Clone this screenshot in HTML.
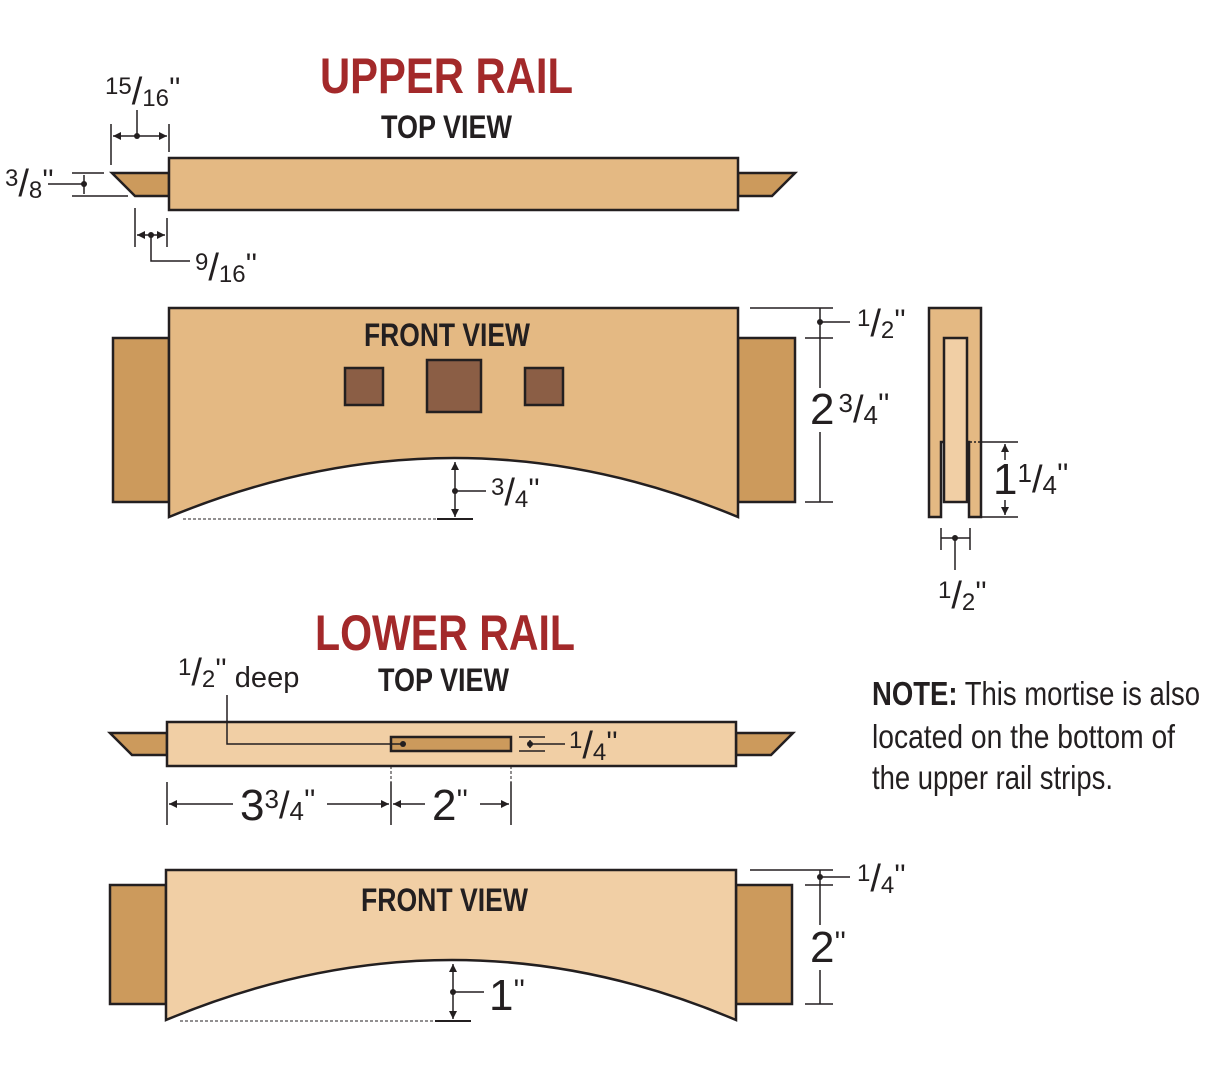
<!DOCTYPE html>
<html><head><meta charset="utf-8"><style>
html,body{margin:0;padding:0;background:#fff;}
svg{display:block;}
text{font-family:"Liberation Sans Narrow","Liberation Sans",sans-serif;fill:#231f20;}
.t{font-weight:bold;}
</style></head><body>
<svg width="1205" height="1090" viewBox="0 0 1205 1090" xmlns="http://www.w3.org/2000/svg">
<defs>
<marker id="a" viewBox="0 0 10 10" refX="10" refY="5" markerWidth="8" markerHeight="8" orient="auto-start-reverse" markerUnits="userSpaceOnUse"><path d="M0,0 L10,5 L0,10 z" fill="#231f20"/></marker>
</defs>
<g stroke="#231f20" stroke-width="2.5" stroke-linejoin="miter">
<polygon points="169,173 112,173 135,196 169,196" fill="#cc9a5c"/>
<polygon points="738,173 795,173 772,196 738,196" fill="#cc9a5c"/>
<rect x="169" y="158" width="569" height="52" fill="#e4b983"/>
<rect x="113" y="338" width="56" height="164" fill="#cc9a5c"/>
<rect x="738" y="338" width="57" height="164" fill="#cc9a5c"/>
<path d="M169,308 L738,308 L738,517 Q455,399 169,517 Z" fill="#e4b983"/>
<rect x="345" y="368" width="38" height="37" fill="#8b5e45"/>
<rect x="427" y="360" width="54" height="52" fill="#8b5e45"/>
<rect x="525" y="368" width="38" height="37" fill="#8b5e45"/>
<path d="M929,308 L981,308 L981,517 L969,517 L969,442 L941,442 L941,517 L929,517 Z" fill="#e4b983"/>
<rect x="944" y="338" width="23" height="164" fill="#f1cfa5"/>
<polygon points="167,733 110,733 132,755 167,755" fill="#cc9a5c"/>
<polygon points="736,733 793,733 771,755 736,755" fill="#cc9a5c"/>
<rect x="167" y="722" width="569" height="44" fill="#f1cfa5"/>
<rect x="391" y="737" width="120" height="14" fill="#cc9a5c"/>
<rect x="110" y="885" width="56" height="119" fill="#cc9a5c"/>
<rect x="736" y="885" width="56" height="119" fill="#cc9a5c"/>
<path d="M166,870 L736,870 L736,1020 Q453,900 166,1020 Z" fill="#f1cfa5"/>
</g>
<g stroke="#231f20" stroke-width="1.5" fill="none">
<line x1="111" y1="124" x2="111" y2="165"/><line x1="169" y1="124" x2="169" y2="152"/>
<line x1="113" y1="136" x2="167" y2="136" marker-start="url(#a)" marker-end="url(#a)"/>
<line x1="137" y1="110" x2="137" y2="136"/>
<line x1="72" y1="173" x2="104" y2="173"/><line x1="72" y1="196" x2="128" y2="196"/>
<line x1="84" y1="175" x2="84" y2="194"/><line x1="48" y1="184" x2="84" y2="184"/>
<line x1="135" y1="208" x2="135" y2="247"/><line x1="167" y1="218" x2="167" y2="247"/>
<line x1="137" y1="235" x2="165" y2="235" marker-start="url(#a)" marker-end="url(#a)"/>
<polyline points="151,235 151,261 190,261"/>
<line x1="750" y1="308" x2="833" y2="308"/><line x1="805" y1="338" x2="833" y2="338"/><line x1="805" y1="502" x2="833" y2="502"/>
<line x1="820" y1="308" x2="820" y2="388"/><line x1="820" y1="432" x2="820" y2="502"/>
<line x1="820" y1="322" x2="850" y2="322"/>
<line x1="183" y1="519" x2="437" y2="519" stroke-dasharray="3,2" stroke-width="1"/>
<line x1="437" y1="519" x2="473" y2="519" stroke-width="2"/>
<line x1="455" y1="462" x2="455" y2="517" marker-start="url(#a)" marker-end="url(#a)"/>
<line x1="455" y1="491" x2="486" y2="491"/>
<line x1="981" y1="442" x2="1018" y2="442"/><line x1="981" y1="517" x2="1018" y2="517"/>
<line x1="970" y1="442" x2="981" y2="442" stroke-dasharray="2,2"/>
<line x1="1005" y1="444" x2="1005" y2="460" marker-start="url(#a)"/><line x1="1005" y1="500" x2="1005" y2="515" marker-end="url(#a)"/>
<line x1="941" y1="528" x2="941" y2="550"/><line x1="970" y1="528" x2="970" y2="550"/>
<line x1="941" y1="538" x2="970" y2="538"/><line x1="955" y1="538" x2="955" y2="570"/>
<polyline points="403,744 227,744 227,695"/>
<line x1="519" y1="737" x2="545" y2="737"/><line x1="519" y1="751" x2="545" y2="751"/>
<line x1="530" y1="740" x2="530" y2="748"/><line x1="530" y1="744" x2="565" y2="744"/>
<line x1="167" y1="782" x2="167" y2="825"/><line x1="391" y1="782" x2="391" y2="825"/><line x1="511" y1="782" x2="511" y2="825"/>
<line x1="391" y1="766" x2="391" y2="782" stroke-dasharray="3,2" stroke-width="1"/><line x1="511" y1="766" x2="511" y2="782" stroke-dasharray="3,2" stroke-width="1"/>
<line x1="169" y1="804" x2="233" y2="804" marker-start="url(#a)"/><line x1="327" y1="804" x2="389" y2="804" marker-end="url(#a)"/>
<line x1="393" y1="804" x2="425" y2="804" marker-start="url(#a)"/><line x1="480" y1="804" x2="509" y2="804" marker-end="url(#a)"/>
<line x1="750" y1="870" x2="833" y2="870"/><line x1="805" y1="885" x2="833" y2="885"/><line x1="805" y1="1004" x2="833" y2="1004"/>
<line x1="820" y1="870" x2="820" y2="925"/><line x1="820" y1="970" x2="820" y2="1004"/>
<line x1="820" y1="877" x2="850" y2="877"/>
<line x1="180" y1="1021" x2="435" y2="1021" stroke-dasharray="3,2" stroke-width="1"/>
<line x1="435" y1="1021" x2="471" y2="1021" stroke-width="2"/>
<line x1="453" y1="964" x2="453" y2="1019" marker-start="url(#a)" marker-end="url(#a)"/>
<line x1="453" y1="992" x2="484" y2="992"/>
</g>
<g fill="#231f20">
<circle cx="137" cy="136" r="3"/><circle cx="84" cy="184" r="3"/><circle cx="151" cy="235" r="3"/>
<circle cx="820" cy="322" r="3"/><circle cx="455" cy="491" r="3"/><circle cx="955" cy="538" r="3"/>
<circle cx="403" cy="744" r="3"/><circle cx="530" cy="744" r="3"/><circle cx="820" cy="877" r="3"/><circle cx="453" cy="992" r="3"/>
</g>
<text class="t" x="320" y="93" font-size="50" style="fill:#a3292a" textLength="253" lengthAdjust="spacingAndGlyphs">UPPER RAIL</text>
<text class="t" x="381" y="138" font-size="32" textLength="131" lengthAdjust="spacingAndGlyphs">TOP VIEW</text>
<text class="t" x="364" y="346" font-size="32" textLength="166" lengthAdjust="spacingAndGlyphs">FRONT VIEW</text>
<text class="t" x="315" y="650" font-size="50" style="fill:#a3292a" textLength="260" lengthAdjust="spacingAndGlyphs">LOWER RAIL</text>
<text class="t" x="378" y="691" font-size="32" textLength="131" lengthAdjust="spacingAndGlyphs">TOP VIEW</text>
<text class="t" x="361" y="911" font-size="32" textLength="167" lengthAdjust="spacingAndGlyphs">FRONT VIEW</text>
<text x="105" y="94" font-size="24">15<tspan font-size="38" dy="10">/</tspan><tspan dy="2">16</tspan><tspan font-size="30" dy="-8">''</tspan></text>
<text x="5" y="186" font-size="24">3<tspan font-size="38" dy="10">/</tspan><tspan dy="2">8</tspan><tspan font-size="30" dy="-8">''</tspan></text>
<text x="195" y="270" font-size="24">9<tspan font-size="38" dy="10">/</tspan><tspan dy="2">16</tspan><tspan font-size="30" dy="-8">''</tspan></text>
<text x="857" y="326" font-size="24">1<tspan font-size="38" dy="10">/</tspan><tspan dy="2">2</tspan><tspan font-size="30" dy="-8">''</tspan></text>
<text x="810" y="424" font-size="44">2<tspan font-size="26" dy="-12" dx="4">3</tspan><tspan font-size="38" dy="10">/</tspan><tspan font-size="26" dy="2">4</tspan><tspan font-size="30" dy="-10">''</tspan></text>
<text x="491" y="495" font-size="24">3<tspan font-size="38" dy="10">/</tspan><tspan dy="2">4</tspan><tspan font-size="30" dy="-8">''</tspan></text>
<text x="993" y="494" font-size="44">1<tspan font-size="26" dy="-12">1</tspan><tspan font-size="38" dy="10">/</tspan><tspan font-size="26" dy="2">4</tspan><tspan font-size="30" dy="-10">''</tspan></text>
<text x="938" y="598" font-size="24">1<tspan font-size="38" dy="10">/</tspan><tspan dy="2">2</tspan><tspan font-size="30" dy="-8">''</tspan></text>
<text x="178" y="675" font-size="24">1<tspan font-size="38" dy="10">/</tspan><tspan dy="2">2</tspan><tspan font-size="30" dy="-8">''</tspan><tspan font-size="29" dy="8"> deep</tspan></text>
<text x="569" y="748" font-size="24">1<tspan font-size="38" dy="10">/</tspan><tspan dy="2">4</tspan><tspan font-size="30" dy="-8">''</tspan></text>
<text x="240" y="820" font-size="44">3<tspan font-size="26" dy="-12">3</tspan><tspan font-size="38" dy="10">/</tspan><tspan font-size="26" dy="2">4</tspan><tspan font-size="30" dy="-10">''</tspan></text>
<text x="432" y="820" font-size="44">2<tspan font-size="30" dy="-10">''</tspan></text>
<text x="857" y="881" font-size="24">1<tspan font-size="38" dy="10">/</tspan><tspan dy="2">4</tspan><tspan font-size="30" dy="-8">''</tspan></text>
<text x="810" y="962" font-size="44">2<tspan font-size="30" dy="-10">''</tspan></text>
<text x="489" y="1010" font-size="44">1<tspan font-size="30" dy="-10">''</tspan></text>
<text x="872" y="705" font-size="33" textLength="328" lengthAdjust="spacingAndGlyphs"><tspan font-weight="bold">NOTE:</tspan> This mortise is also</text>
<text x="872" y="748" font-size="33" textLength="303" lengthAdjust="spacingAndGlyphs">located on the bottom of</text>
<text x="872" y="789" font-size="33" textLength="241" lengthAdjust="spacingAndGlyphs">the upper rail strips.</text>
</svg>
</body></html>
